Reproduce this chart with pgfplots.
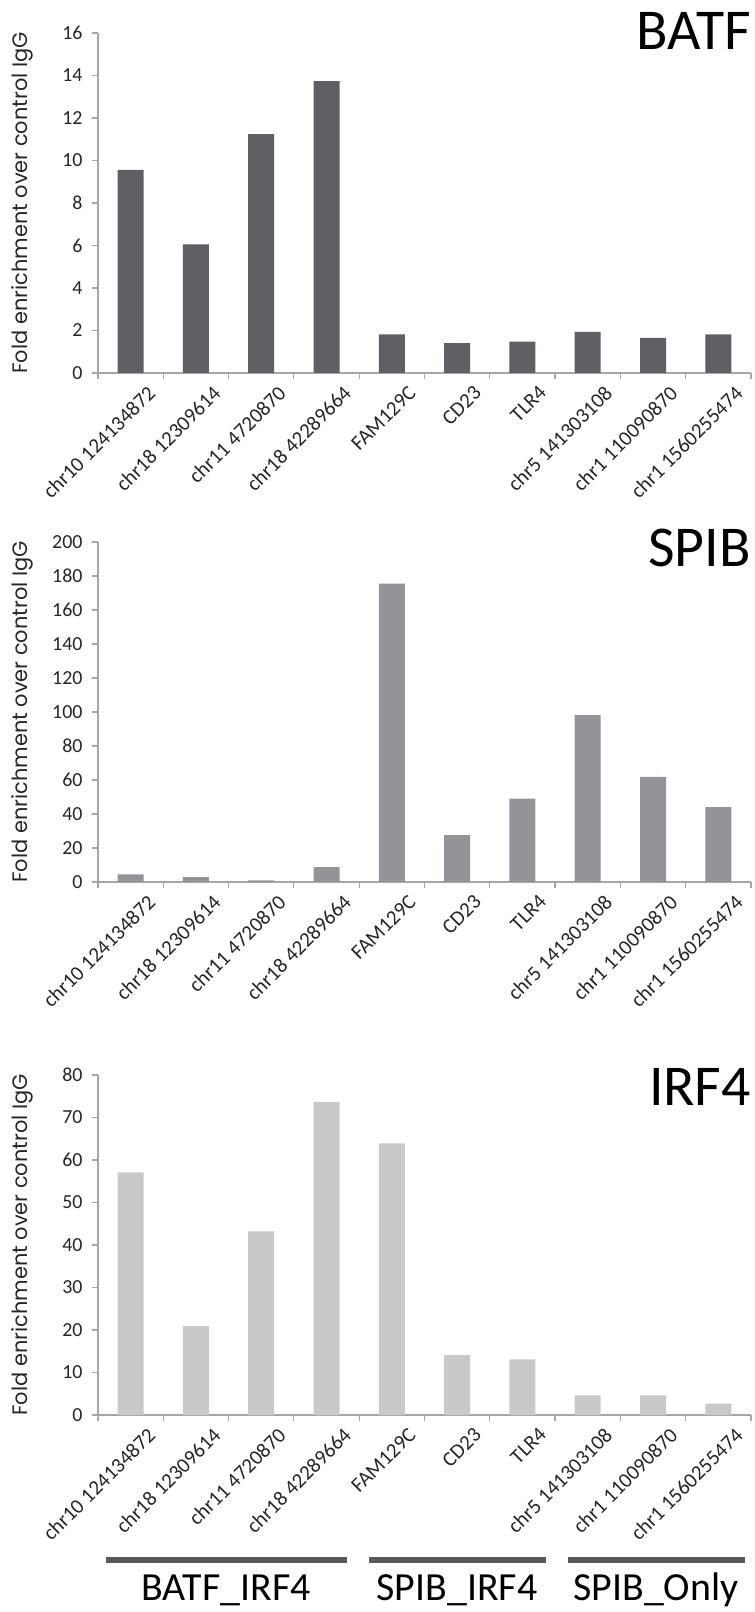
\documentclass[border=0pt]{standalone}
\usepackage{fontspec}
\setmainfont{Carlito}
\newfontfamily\labfont{Poppins}
\usepackage{pgfplots}
\pgfplotsset{compat=1.18}

\definecolor{batfbar}{HTML}{5F6064}
\definecolor{spibbar}{HTML}{939498}
\definecolor{irfbar}{HTML}{C8C9CB}
\definecolor{axgray}{HTML}{A6A6A6}
\definecolor{grpbar}{HTML}{58595B}

\pgfplotsset{
  chip/.style={
    scale only axis, width=653bp, height=340bp,
    xmin=-0.5, xmax=9.5, ymin=0,
    axis x line*=bottom, axis y line*=left,
    axis line style={axgray, line width=1.2bp},
    tick style={axgray, line width=1.2bp},
    tick align=outside, major tick length=6bp,
    xtick={-0.5,0.5,...,9.5}, xticklabels={},
    extra x ticks={0,...,9},
    extra x tick labels={chr10 124134872, chr18 12309614, chr11 4720870, chr18 42289664, FAM129C, CD23, TLR4, chr5 141303108, chr1 110090870, chr1 1560255474},
    extra x tick style={major tick length=0pt,
      xticklabel style={rotate=45, anchor=north east, inner sep=1bp,
        font=\fontsize{21}{22}\selectfont, yshift=-18bp, xshift=4bp, text=black!85}},
    yticklabel style={font=\fontsize{20}{22}\selectfont, xshift=-6bp, text=black!85},
    /pgf/number format/assume math mode=true,
    ylabel={Fold enrichment over control IgG},
    ylabel style={font=\labfont\fontsize{21}{24}\selectfont,
      at={(axis description cs:-0.116,0.5)}, anchor=center, text=black!85},
    ybar, bar width=26bp,
    clip=false,
  }
}

\begin{document}
\begin{tikzpicture}
\path[use as bounding box] (-98bp,-197bp) rectangle (657bp,1415bp);

% BATF
\begin{axis}[chip, at={(0bp,1042bp)}, anchor=south west,
  ymax=16, ytick={0,2,...,16}]
\addplot[fill=batfbar, draw=none, bar shift=0pt] coordinates {
  (0,9.56) (1,6.05) (2,11.24) (3,13.74) (4,1.82)
  (5,1.41) (6,1.48) (7,1.93) (8,1.65) (9,1.82)};
\end{axis}

% SPIB
\begin{axis}[chip, at={(0bp,533bp)}, anchor=south west,
  ymax=200, ytick={0,20,...,200}]
\addplot[fill=spibbar, draw=none, bar shift=0pt] coordinates {
  (0,4.5) (1,2.9) (2,1.0) (3,8.8) (4,175.5)
  (5,27.6) (6,49) (7,98.2) (8,61.8) (9,44.1)};
\end{axis}

% IRF4
\begin{axis}[chip, at={(0bp,0bp)}, anchor=south west,
  ymax=80, ytick={0,10,...,80}]
\addplot[fill=irfbar, draw=none, bar shift=0pt] coordinates {
  (0,57.1) (1,20.9) (2,43.2) (3,73.7) (4,63.9)
  (5,14.1) (6,13.1) (7,4.6) (8,4.6) (9,2.7)};
\end{axis}

% titles
\node[anchor=base east, inner sep=0pt, font=\fontsize{58}{60}\selectfont] at (653bp,1365bp) {BATF};
\node[anchor=base east, inner sep=0pt, font=\fontsize{58}{60}\selectfont] at (653bp,848bp) {SPIB};
\node[anchor=base east, inner sep=0pt, font=\fontsize{58}{60}\selectfont] at (653bp,309bp) {IRF4};

% group bars and names
\draw[grpbar, line width=6bp] (8bp,-145bp) -- (249bp,-145bp);
\draw[grpbar, line width=6bp] (271bp,-145bp) -- (448bp,-145bp);
\draw[grpbar, line width=6bp] (470bp,-145bp) -- (647bp,-145bp);
\node[anchor=base, inner sep=0pt, font=\fontsize{40}{42}\selectfont] at (128bp,-185bp) {BATF\_IRF4};
\node[anchor=base, inner sep=0pt, font=\fontsize{40}{42}\selectfont] at (359bp,-185bp) {SPIB\_IRF4};
\node[anchor=base, inner sep=0pt, font=\fontsize{40}{42}\selectfont] at (558bp,-185bp) {SPIB\_Only};
\end{tikzpicture}
\end{document}
